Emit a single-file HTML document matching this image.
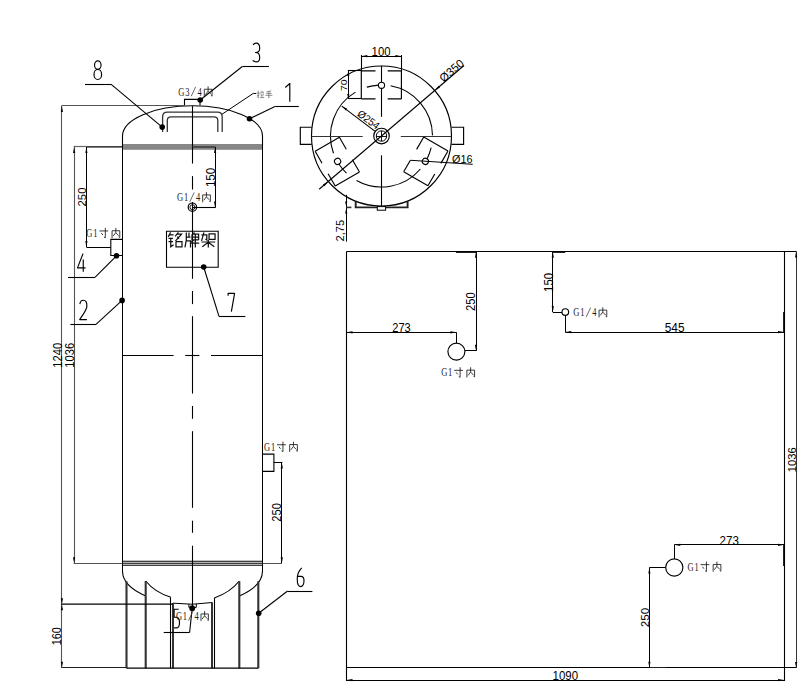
<!DOCTYPE html>
<html><head><meta charset="utf-8"><style>
html,body{margin:0;padding:0;background:#fff;}
body{width:812px;height:696px;overflow:hidden;font-family:"Liberation Sans",sans-serif;}
svg{display:block;}
</style></head><body>
<svg width="812" height="696" viewBox="0 0 812 696">
<rect width="812" height="696" fill="#fff"/>
<path d="M122.5,146 V136 A70,30.2 0 0 1 262.5,136 V146" stroke="#000" stroke-width="1.1" fill="none" />
<rect x="122.5" y="144" width="140" height="5.8" fill="#878787"/>
<rect x="122.5" y="560.2" width="140" height="5.6" fill="#b4b4b4"/>
<line x1="122.5" y1="561.5" x2="262.5" y2="561.5" stroke="#404040" stroke-width="1.0"/>
<line x1="122.5" y1="563.5" x2="262.5" y2="563.5" stroke="#404040" stroke-width="1.0"/>
<line x1="122.5" y1="565.5" x2="262.5" y2="565.5" stroke="#404040" stroke-width="1.0"/>
<line x1="122.5" y1="144" x2="122.5" y2="572" stroke="#000" stroke-width="1.0"/>
<line x1="262.5" y1="144" x2="262.5" y2="572" stroke="#000" stroke-width="1.0"/>
<path d="M122.5,571 A70.0,33.5 0 0 0 145.7,595.91" stroke="#000" stroke-width="1.1" fill="none" />
<path d="M262.5,571 A70.0,33.5 0 0 1 239.3,595.91" stroke="#000" stroke-width="1.1" fill="none" />
<path d="M145.7,581 Q155,592.5 170.9,597.3" stroke="#000" stroke-width="1.1" fill="none" />
<path d="M214.3,598 Q230,592.5 239.3,581" stroke="#000" stroke-width="1.1" fill="none" />
<path d="M173,603.2 Q192.5,605.6 212.4,602.5" stroke="#000" stroke-width="1.0" fill="none" />
<path d="M184.5,105.6 V99.4 H200 V105.4" stroke="#000" stroke-width="1.1" fill="none" />
<path d="M162.6,132 V117 Q162.6,112.2 167.4,112.2 H217.4 Q222.2,112.2 222.2,117 V132" stroke="#333" stroke-width="1.3" fill="none" />
<path d="M167.3,132 V120.5 Q167.3,116.8 171,116.8 H214 Q217.8,116.8 217.8,120.5 V132" stroke="#333" stroke-width="1.3" fill="none" />
<line x1="192.5" y1="105.9" x2="192.5" y2="163.6" stroke="#000" stroke-width="1.1"/>
<line x1="192.5" y1="176.1" x2="192.5" y2="189.5" stroke="#000" stroke-width="1.1"/>
<line x1="192.5" y1="202" x2="192.5" y2="278.8" stroke="#000" stroke-width="1.1"/>
<line x1="192.5" y1="291" x2="192.5" y2="304.1" stroke="#000" stroke-width="1.1"/>
<line x1="192.5" y1="316.2" x2="192.5" y2="393.6" stroke="#000" stroke-width="1.1"/>
<line x1="192.5" y1="406" x2="192.5" y2="418.8" stroke="#000" stroke-width="1.1"/>
<line x1="192.5" y1="431.2" x2="192.5" y2="507.8" stroke="#000" stroke-width="1.1"/>
<line x1="192.5" y1="520.7" x2="192.5" y2="532.8" stroke="#000" stroke-width="1.1"/>
<line x1="192.5" y1="545.7" x2="192.5" y2="607" stroke="#000" stroke-width="1.1"/>
<line x1="122.5" y1="355.5" x2="173.6" y2="355.5" stroke="#000" stroke-width="1.1"/>
<line x1="185.2" y1="355.5" x2="199.4" y2="355.5" stroke="#000" stroke-width="1.1"/>
<line x1="211" y1="355.5" x2="262.5" y2="355.5" stroke="#000" stroke-width="1.1"/>
<line x1="126.5" y1="581.3" x2="126.5" y2="668.3" stroke="#333" stroke-width="2.1"/>
<line x1="145.7" y1="581" x2="145.7" y2="668.3" stroke="#333" stroke-width="2.1"/>
<line x1="170.5" y1="597.3" x2="170.5" y2="668.3" stroke="#000" stroke-width="1.1"/>
<line x1="173" y1="603" x2="173" y2="668.3" stroke="#333" stroke-width="2.0"/>
<line x1="212" y1="602.6" x2="212" y2="668.3" stroke="#333" stroke-width="2.0"/>
<line x1="214.5" y1="598" x2="214.5" y2="668.3" stroke="#000" stroke-width="1.1"/>
<line x1="239.3" y1="581.2" x2="239.3" y2="668.3" stroke="#333" stroke-width="2.1"/>
<line x1="258.3" y1="581.2" x2="258.3" y2="668.3" stroke="#333" stroke-width="2.1"/>
<line x1="126.5" y1="668.2" x2="258.3" y2="668.2" stroke="#000" stroke-width="1.3"/>
<path d="M188.9,604 V607.4 H196.3 V603.8" stroke="#000" stroke-width="1.0" fill="none" />
<circle cx="192.2" cy="608.2" r="2.9" fill="#000"/>
<line x1="61.5" y1="106" x2="61.5" y2="667.8" stroke="#555" stroke-width="1.1"/>
<path d="M61.9,106 L63,112 L60.8,112 Z" fill="#000"/>
<path d="M61.9,667.8 L60.8,661.8 L63,661.8 Z" fill="#000"/>
<line x1="61.4" y1="105.5" x2="184.5" y2="105.5" stroke="#555" stroke-width="1.2"/>
<line x1="61.4" y1="667.5" x2="126.5" y2="667.5" stroke="#222" stroke-width="1.0"/>
<line x1="61.4" y1="604.2" x2="173" y2="604.2" stroke="#000" stroke-width="1.3"/>
<path d="M61.9,604.2 L63,610.2 L60.8,610.2 Z" fill="#000"/>
<path d="M61.9,604.2 L60.8,598.2 L63,598.2 Z" fill="#000"/>
<text id="t160" x="61.2" y="636.35" font-family="Liberation Sans" font-size="11.94" text-anchor="middle" fill="#000" transform="rotate(-90 61.2 636.35)" textLength="17.92" lengthAdjust="spacingAndGlyphs">160</text>
<line x1="74.5" y1="147" x2="74.5" y2="563.2" stroke="#555" stroke-width="1.1"/>
<path d="M74.1,147 L75.2,153 L73,153 Z" fill="#000"/>
<path d="M74.1,563.2 L73,557.2 L75.2,557.2 Z" fill="#000"/>
<line x1="73.6" y1="146.5" x2="86.4" y2="146.5" stroke="#666" stroke-width="1.2"/>
<line x1="86.4" y1="146.9" x2="122.5" y2="146.9" stroke="#000" stroke-width="1.4"/>
<line x1="73.6" y1="563.5" x2="122.5" y2="563.5" stroke="#555" stroke-width="1.0"/>
<line x1="262.5" y1="563.5" x2="281.9" y2="563.5" stroke="#555" stroke-width="1.0"/>
<text id="t1240" x="62.3" y="355.25" font-family="Liberation Sans" font-size="12.67" text-anchor="middle" fill="#000" transform="rotate(-90 62.3 355.25)" textLength="24.85" lengthAdjust="spacingAndGlyphs">1240</text>
<text id="t1036L" x="73.7" y="355.25" font-family="Liberation Sans" font-size="12.67" text-anchor="middle" fill="#000" transform="rotate(-90 73.7 355.25)" textLength="24.85" lengthAdjust="spacingAndGlyphs">1036</text>
<line x1="86.5" y1="147" x2="86.5" y2="247" stroke="#000" stroke-width="1.0"/>
<path d="M86.4,147 L87.5,153 L85.3,153 Z" fill="#000"/>
<path d="M86.4,247 L85.3,241 L87.5,241 Z" fill="#000"/>
<line x1="86.4" y1="247.5" x2="111" y2="247.5" stroke="#000" stroke-width="1.0"/>
<text id="t250L" x="86" y="197" font-family="Liberation Sans" font-size="10.83" text-anchor="middle" fill="#000" transform="rotate(-90 86 197)" textLength="18.96" lengthAdjust="spacingAndGlyphs">250</text>
<path d="M122.5,239.4 H110.8 V255.5 H122.5" stroke="#000" stroke-width="1.1" fill="none" />
<text transform="translate(89.4 237) scale(0.72 1)" font-family="Liberation Serif" font-size="11.8" text-anchor="middle" fill="#1a1a1a">G</text>
<text transform="translate(95.4 237) scale(0.72 1)" font-family="Liberation Serif" font-size="11.8" text-anchor="middle" fill="#1a1a1a">1</text>
<path d="M0.3,3H9.7 M6.6,0V9.8L5.2,9 M2.4,5L4,7" transform="translate(99.12 227.88) scale(0.94 1.02)" stroke="#1a1a1a" stroke-width="0.87" fill="none" vector-effect="none"/>
<path d="M1,2.8V10 M1,2.8H9.2V9.4L8,8.8 M5,0V4.6 M5,4.6L2.2,8 M5.1,4.8L8,7.6" transform="translate(111.12 227.88) scale(0.94 1.02)" stroke="#1a1a1a" stroke-width="0.87" fill="none" vector-effect="none"/>
<path d="M262.5,454.1 H273.9 V471.4 H262.5" stroke="#000" stroke-width="1.1" fill="none" />
<text transform="translate(267 450.8) scale(0.72 1)" font-family="Liberation Serif" font-size="11.8" text-anchor="middle" fill="#1a1a1a">G</text>
<text transform="translate(273 450.8) scale(0.72 1)" font-family="Liberation Serif" font-size="11.8" text-anchor="middle" fill="#1a1a1a">1</text>
<path d="M0.3,3H9.7 M6.6,0V9.8L5.2,9 M2.4,5L4,7" transform="translate(276.72 441.68) scale(0.94 1.02)" stroke="#1a1a1a" stroke-width="0.87" fill="none" vector-effect="none"/>
<path d="M1,2.8V10 M1,2.8H9.2V9.4L8,8.8 M5,0V4.6 M5,4.6L2.2,8 M5.1,4.8L8,7.6" transform="translate(288.72 441.68) scale(0.94 1.02)" stroke="#1a1a1a" stroke-width="0.87" fill="none" vector-effect="none"/>
<line x1="273.9" y1="462.5" x2="282.4" y2="462.5" stroke="#000" stroke-width="1.0"/>
<line x1="281.5" y1="462.5" x2="281.5" y2="563.2" stroke="#000" stroke-width="1.0"/>
<path d="M281.8,462.5 L282.9,468.5 L280.7,468.5 Z" fill="#000"/>
<path d="M281.8,563.2 L280.7,557.2 L282.9,557.2 Z" fill="#000"/>
<text id="t250R" x="281.2" y="512.45" font-family="Liberation Sans" font-size="11.94" text-anchor="middle" fill="#000" transform="rotate(-90 281.2 512.45)" textLength="18.56" lengthAdjust="spacingAndGlyphs">250</text>
<circle cx="192.4" cy="207.2" r="4.2" stroke="#000" stroke-width="1.2" fill="none"/>
<circle cx="192.4" cy="207.2" r="2.5" stroke="#000" stroke-width="0.9" fill="none"/>
<line x1="192.4" y1="147" x2="215.3" y2="147" stroke="#333" stroke-width="1.4"/>
<line x1="215.5" y1="147" x2="215.5" y2="207.4" stroke="#000" stroke-width="1.0"/>
<line x1="192.4" y1="207.5" x2="215.6" y2="207.5" stroke="#000" stroke-width="1.1"/>
<path d="M215.1,147 L216.2,153 L214,153 Z" fill="#000"/>
<path d="M215.1,207.4 L214,201.4 L216.2,201.4 Z" fill="#000"/>
<text id="t150T" x="214.7" y="177.45" font-family="Liberation Sans" font-size="12.67" text-anchor="middle" fill="#000" transform="rotate(-90 214.7 177.45)" textLength="19.24" lengthAdjust="spacingAndGlyphs">150</text>
<text transform="translate(180 201.2) scale(0.72 1)" font-family="Liberation Serif" font-size="11.8" text-anchor="middle" fill="#1a1a1a">G</text>
<text transform="translate(186 201.2) scale(0.72 1)" font-family="Liberation Serif" font-size="11.8" text-anchor="middle" fill="#1a1a1a">1</text>
<line x1="189.8" y1="201.8" x2="194.2" y2="192.4" stroke="#444" stroke-width="0.8"/>
<text transform="translate(198 201.2) scale(0.72 1)" font-family="Liberation Serif" font-size="11.8" text-anchor="middle" fill="#1a1a1a">4</text>
<path d="M1,2.8V10 M1,2.8H9.2V9.4L8,8.8 M5,0V4.6 M5,4.6L2.2,8 M5.1,4.8L8,7.6" transform="translate(201.72 192.08) scale(0.94 1.02)" stroke="#1a1a1a" stroke-width="0.87" fill="none" vector-effect="none"/>
<text transform="translate(181.25 95.6) scale(0.72 1)" font-family="Liberation Serif" font-size="11.8" text-anchor="middle" fill="#1a1a1a">G</text>
<text transform="translate(187.35 95.6) scale(0.72 1)" font-family="Liberation Serif" font-size="11.8" text-anchor="middle" fill="#1a1a1a">3</text>
<line x1="191.25" y1="96.2" x2="195.65" y2="86.8" stroke="#444" stroke-width="0.8"/>
<text transform="translate(199.55 95.6) scale(0.72 1)" font-family="Liberation Serif" font-size="11.8" text-anchor="middle" fill="#1a1a1a">4</text>
<path d="M1,2.8V10 M1,2.8H9.2V9.4L8,8.8 M5,0V4.6 M5,4.6L2.2,8 M5.1,4.8L8,7.6" transform="translate(203.33 86.33) scale(0.95 1.04)" stroke="#1a1a1a" stroke-width="0.85" fill="none" vector-effect="none"/>
<path d="M166.5,231.2 H218.2 V267.3 H166.5 Z" stroke="#000" stroke-width="1.1" fill="none" />
<path d="M2,0L0.4,3 M1.4,1.6H4 M0.6,4H3.6 M0.6,6.2H3.6 M2.1,4V9.6L4,8.2 M7.2,0L5,2.6 M6.3,1.1H9.3L5.2,5.8 M6.4,2.9L7.6,4.2 M5.6,6.2V10 M5.6,6.2H9.6V10 M5.6,9.6H9.6" transform="translate(167.6 232.4) scale(1.5 1.5)" stroke="#111" stroke-width="0.83" fill="none" vector-effect="none"/>
<path d="M1.4,0V5.2L0.5,10 M1.4,3.2H4.2 M1.4,5.6H4.2V10 M3.2,0V3.2 M6.8,0L6.2,1 M5.2,1.2H9.6V5 M5.2,1.2V5H9.6 M5.2,3.1H9.6 M7.4,1.2V10 M4.6,7.2H10 M6.2,5.2L4.8,6.4" transform="translate(184.2 232.4) scale(1.5 1.5)" stroke="#111" stroke-width="0.83" fill="none" vector-effect="none"/>
<path d="M0.4,1.6H4V5L3.1,4.5 M2.1,0L0.5,5.6 M5.5,1H9.5V4.6H5.5Z M0.4,6.4H9.6 M5,5V10 M5,6.6L1,9.6 M5,6.6L9,9.6" transform="translate(200.8 232.4) scale(1.5 1.5)" stroke="#111" stroke-width="0.83" fill="none" vector-effect="none"/>
<ellipse cx="97.8" cy="65.1" rx="3.27" ry="4.3" stroke="#000" stroke-width="1.15" fill="none"/>
<ellipse cx="97.8" cy="74.45" rx="3.8" ry="5.05" stroke="#000" stroke-width="1.15" fill="none"/>
<line x1="85" y1="84.5" x2="110.9" y2="84.5" stroke="#000" stroke-width="1.1"/>
<line x1="110.9" y1="84.2" x2="162.2" y2="127.1" stroke="#000" stroke-width="1.1"/>
<circle cx="162.2" cy="127.1" r="2.8" fill="#000"/>
<path d="M253.05,44.98 C254.1,43.29 255.15,43.1 256.2,43.1 C258.65,43.1 259.7,45.36 259.7,48.18 C259.7,51 258.3,52.5 255.5,52.5 C258.65,52.5 259.7,54.76 259.7,57.39 C259.7,60.58 258.3,61.9 256.2,61.9 C254.8,61.9 253.75,61.34 252.7,60.58 " stroke="#000" stroke-width="1.15" fill="none" stroke-linejoin="round"/>
<line x1="242.3" y1="66.5" x2="268.9" y2="66.5" stroke="#000" stroke-width="1.1"/>
<line x1="242.3" y1="66.5" x2="200.2" y2="100" stroke="#000" stroke-width="1.1"/>
<circle cx="200.2" cy="100" r="2.8" fill="#000"/>
<path d="M285.3,87.53 L289.8,83.5 V101.8 " stroke="#000" stroke-width="1.15" fill="none" stroke-linejoin="round"/>
<line x1="275.5" y1="106.5" x2="298.8" y2="106.5" stroke="#000" stroke-width="1.1"/>
<line x1="275.5" y1="106.3" x2="249.5" y2="118.7" stroke="#000" stroke-width="1.1"/>
<circle cx="249.5" cy="118.7" r="2.8" fill="#000"/>
<line x1="221.9" y1="114.3" x2="253.6" y2="93.2" stroke="#000" stroke-width="1.0"/>
<line x1="253.6" y1="93.5" x2="256.3" y2="93.5" stroke="#000" stroke-width="1.0"/>
<path d="M0,3.2H3.6 M2,0V9.6L1,8.8 M0,7.2L3.6,5.6 M6.8,0L7.3,1.4 M4.6,2.2H9.7 M5.6,3.6L6.4,7.8 M8.8,3.6L7.9,7.8 M4.2,9.2H10" transform="translate(256.8 90.6) scale(0.74 0.76)" stroke="#666" stroke-width="1" fill="none" vector-effect="none"/>
<path d="M8.2,0.4L1.8,1.6 M1.4,3.6H8.6 M0.3,6.2H9.7 M5,1.2V9.6L3.9,8.8" transform="translate(265.2 90.6) scale(0.74 0.76)" stroke="#666" stroke-width="1" fill="none" vector-effect="none"/>
<path d="M83.01,253.6 L77.5,267.9 H85.6 M83.25,259.39 V271.7 " stroke="#000" stroke-width="1.15" fill="none" stroke-linejoin="round"/>
<line x1="68" y1="277.5" x2="95.2" y2="277.5" stroke="#000" stroke-width="1.1"/>
<line x1="95.2" y1="277.1" x2="116.5" y2="255.8" stroke="#000" stroke-width="1.1"/>
<circle cx="116.5" cy="255.8" r="2.8" fill="#000"/>
<path d="M79.84,304.08 C80.28,301.36 81.86,300.2 83.3,300.2 C85.6,300.2 86.9,302.53 86.9,306.02 C86.9,310.29 82.94,314.17 79.7,319.6 H86.9 " stroke="#000" stroke-width="1.15" fill="none" stroke-linejoin="round"/>
<line x1="70.3" y1="324.5" x2="96" y2="324.5" stroke="#000" stroke-width="1.1"/>
<line x1="96" y1="324.3" x2="122.1" y2="300.4" stroke="#000" stroke-width="1.1"/>
<circle cx="122.1" cy="300.4" r="2.8" fill="#000"/>
<path d="M228.1,295.68 V293.3 H234.6 L231.35,311.6 " stroke="#000" stroke-width="1.15" fill="none" stroke-linejoin="round"/>
<line x1="219" y1="316.5" x2="245.4" y2="316.5" stroke="#000" stroke-width="1.1"/>
<line x1="219" y1="316.4" x2="203.7" y2="267" stroke="#000" stroke-width="1.1"/>
<circle cx="203.7" cy="267" r="2.8" fill="#000"/>
<path d="M301.79,567.9 C299.17,570.33 297.24,574.07 297.24,579.12 C297.24,584.36 298.48,586.6 300.55,586.6 C302.76,586.6 304,584.36 304,580.62 C304,577.62 302.97,576.32 300.9,576.32 H297.24 " stroke="#000" stroke-width="1.15" fill="none" stroke-linejoin="round"/>
<line x1="287.6" y1="591.5" x2="312.4" y2="591.5" stroke="#000" stroke-width="1.1"/>
<line x1="287.6" y1="591" x2="258.7" y2="613.2" stroke="#000" stroke-width="1.1"/>
<circle cx="258.7" cy="613.2" r="2.8" fill="#000"/>
<path d="M178.69,609.2 H174.1 V617.24 H176.26 C178.42,617.24 179.5,619.49 179.5,622.66 C179.5,626.03 178.15,627.9 176.26,627.9 H174.1 " stroke="#000" stroke-width="1.15" fill="none" stroke-linejoin="round"/>
<line x1="163.7" y1="632.5" x2="189.6" y2="632.5" stroke="#000" stroke-width="1.1"/>
<line x1="189.6" y1="632.5" x2="192.2" y2="608.2" stroke="#000" stroke-width="1.1"/>
<text transform="translate(179.1 620) scale(0.72 1)" font-family="Liberation Serif" font-size="11.8" text-anchor="middle" fill="#1a1a1a">G</text>
<text transform="translate(184.9 620) scale(0.72 1)" font-family="Liberation Serif" font-size="11.8" text-anchor="middle" fill="#1a1a1a">1</text>
<line x1="188.5" y1="620.6" x2="192.9" y2="611.2" stroke="#444" stroke-width="0.8"/>
<text transform="translate(196.5 620) scale(0.72 1)" font-family="Liberation Serif" font-size="11.8" text-anchor="middle" fill="#1a1a1a">4</text>
<path d="M1,2.8V10 M1,2.8H9.2V9.4L8,8.8 M5,0V4.6 M5,4.6L2.2,8 M5.1,4.8L8,7.6" transform="translate(200.1 611.18) scale(0.9 0.99)" stroke="#1a1a1a" stroke-width="0.9" fill="none" vector-effect="none"/>
<circle cx="381.5" cy="136" r="70" stroke="#000" stroke-width="1.15" fill="none"/>
<path d="M390.62,85.82 A51,51 0 0 1 432.5,135.38" stroke="#000" stroke-width="1.1" fill="none" />
<path d="M431.13,147.73 A51,51 0 0 1 427.02,158.99" stroke="#000" stroke-width="1.1" fill="none" />
<path d="M420.4,168.99 A51,51 0 0 1 356.54,180.48" stroke="#000" stroke-width="1.1" fill="none" />
<path d="M346.52,173.12 A51,51 0 0 1 338.83,163.93" stroke="#000" stroke-width="1.1" fill="none" />
<path d="M333.49,153.19 A51,51 0 0 1 355.46,92.15" stroke="#000" stroke-width="1.1" fill="none" />
<path d="M366.84,87.15 A51,51 0 0 1 378.65,85.08" stroke="#000" stroke-width="1.1" fill="none" />
<circle cx="381.5" cy="136" r="7.8" stroke="#000" stroke-width="1.15" fill="none"/>
<circle cx="381.5" cy="136" r="5.2" stroke="#000" stroke-width="1.0" fill="none"/>
<line x1="376.3" y1="136.5" x2="386.7" y2="136.5" stroke="#000" stroke-width="0.9"/>
<line x1="381.5" y1="130.8" x2="381.5" y2="141.2" stroke="#000" stroke-width="0.9"/>
<path d="M311.7,127.2 H300.3 V144.4 H311.7" stroke="#000" stroke-width="1.15" fill="none" />
<path d="M451.5,127.2 H463.6 V144.4 H451.5" stroke="#000" stroke-width="1.15" fill="none" />
<line x1="311.7" y1="136.5" x2="362.7" y2="136.5" stroke="#333" stroke-width="1.1"/>
<line x1="400.8" y1="136.5" x2="451.5" y2="136.5" stroke="#333" stroke-width="1.1"/>
<line x1="381.5" y1="65.9" x2="381.5" y2="116.9" stroke="#000" stroke-width="1.1"/>
<line x1="381.5" y1="155.3" x2="381.5" y2="206.5" stroke="#000" stroke-width="1.1"/>
<g transform="rotate(0 381.5 136.0)"><path d="M361.3,70.9 V98.9 M401.4,70.9 V98.9 M361.3,70.9 H375.5 M387.7,70.9 H401.4 M361.3,98.9 H375.5 M387.7,98.9 H401.4" stroke="#000" stroke-width="1.15" fill="none"/><circle cx="381.5" cy="85.3" r="3.1" stroke="#000" stroke-width="1.1" fill="#fff"/></g>
<g transform="rotate(120 381.5 136.0)"><path d="M361.3,70.9 V98.9 M401.4,70.9 V98.9 M361.3,70.9 H375.5 M387.7,70.9 H401.4 M361.3,98.9 H375.5 M387.7,98.9 H401.4" stroke="#000" stroke-width="1.15" fill="none"/><circle cx="381.5" cy="85.3" r="3.1" stroke="#000" stroke-width="1.1" fill="#fff"/></g>
<g transform="rotate(240 381.5 136.0)"><path d="M361.3,70.9 V98.9 M401.4,70.9 V98.9 M361.3,70.9 H375.5 M387.7,70.9 H401.4 M361.3,98.9 H375.5 M387.7,98.9 H401.4" stroke="#000" stroke-width="1.15" fill="none"/><circle cx="381.5" cy="85.3" r="3.1" stroke="#000" stroke-width="1.1" fill="#fff"/></g>
<line x1="361.5" y1="55" x2="361.5" y2="71" stroke="#000" stroke-width="1.1"/>
<line x1="401.5" y1="55" x2="401.5" y2="71" stroke="#000" stroke-width="1.1"/>
<line x1="361.3" y1="56.5" x2="401.4" y2="56.5" stroke="#000" stroke-width="1.0"/>
<path d="M361.3,56.2 L367.3,55.1 L367.3,57.3 Z" fill="#000"/>
<path d="M401.4,56.2 L395.4,57.3 L395.4,55.1 Z" fill="#000"/>
<text id="t100" x="381.05" y="56" font-family="Liberation Sans" font-size="11.89" text-anchor="middle" fill="#000" textLength="18.91" lengthAdjust="spacingAndGlyphs">100</text>
<line x1="347.8" y1="70.5" x2="361.3" y2="70.5" stroke="#000" stroke-width="1.1"/>
<line x1="347.8" y1="98.5" x2="361.3" y2="98.5" stroke="#000" stroke-width="1.1"/>
<line x1="348.5" y1="70.9" x2="348.5" y2="98.9" stroke="#000" stroke-width="1.0"/>
<path d="M348.3,70.9 L349.4,75.9 L347.2,75.9 Z" fill="#000"/>
<path d="M348.3,98.9 L347.2,93.9 L349.4,93.9 Z" fill="#000"/>
<text id="t70" x="347.5" y="85.15" font-family="Liberation Sans" font-size="9.59" text-anchor="middle" fill="#000" transform="rotate(-90 347.5 85.15)" textLength="11.72" lengthAdjust="spacingAndGlyphs">70</text>
<line x1="319.15" y1="189.25" x2="464" y2="65.53" stroke="#000" stroke-width="1.1"/>
<path d="M434.73,90.54 L438.58,85.81 L440.01,87.48 Z" fill="#000"/>
<path d="M328.27,181.46 L324.42,186.19 L322.99,184.52 Z" fill="#000"/>
<text x="454.12" y="73.68" font-family="Liberation Sans" font-size="11.5" text-anchor="middle" fill="#000" transform="rotate(-40.5 454.12 73.68)">Ø350</text>
<line x1="341.7" y1="106.1" x2="375.5" y2="131.6" stroke="#000" stroke-width="1.1"/>
<path d="M341.7,106.1 L347.17,108.79 L345.86,110.56 Z" fill="#000"/>
<text x="366.4" y="122.6" font-family="Liberation Sans" font-size="10.6" text-anchor="middle" fill="#000" transform="rotate(36.6 366.4 122.6)" textLength="24.5" lengthAdjust="spacingAndGlyphs">Ø254</text>
<line x1="410.9" y1="160.3" x2="472.7" y2="164.3" stroke="#000" stroke-width="1.0"/>
<text id="tO16" x="462.25" y="163.3" font-family="Liberation Sans" font-size="11.24" text-anchor="middle" fill="#000" textLength="20.43" lengthAdjust="spacingAndGlyphs">Ø16</text>
<path d="M355.7,201.6 V207.4 H407.6 V201.6" stroke="#222" stroke-width="1.9" fill="none" />
<rect x="377.3" y="206.6" width="8.3" height="3.6" stroke="#000" stroke-width="1" fill="#fff"/>
<line x1="346.5" y1="194.8" x2="346.5" y2="241.6" stroke="#000" stroke-width="1.0"/>
<line x1="346.2" y1="207.4" x2="351.4" y2="207.4" stroke="#333" stroke-width="1.6"/>
<path d="M346.2,206.6 L345.1,201.6 L347.3,201.6 Z" fill="#000"/>
<path d="M346.2,208.4 L347.3,213.4 L345.1,213.4 Z" fill="#000"/>
<text id="t275" x="343.7" y="230.7" font-family="Liberation Sans" font-size="10.43" text-anchor="middle" fill="#000" transform="rotate(-90 343.7 230.7)" textLength="21.64" lengthAdjust="spacingAndGlyphs">2,75</text>
<line x1="346.5" y1="251.5" x2="796.6" y2="251.5" stroke="#000" stroke-width="1.1"/>
<line x1="346.5" y1="667.5" x2="796.6" y2="667.5" stroke="#000" stroke-width="1.1"/>
<line x1="346.5" y1="251.6" x2="346.5" y2="681" stroke="#000" stroke-width="1.1"/>
<line x1="784.5" y1="251.6" x2="784.5" y2="681" stroke="#000" stroke-width="1.1"/>
<line x1="455.9" y1="252.5" x2="476.6" y2="252.5" stroke="#222" stroke-width="1.0"/>
<line x1="552.7" y1="252.5" x2="565.2" y2="252.5" stroke="#222" stroke-width="1.0"/>
<line x1="783.5" y1="312" x2="783.5" y2="332" stroke="#222" stroke-width="1.0"/>
<line x1="783.5" y1="544.8" x2="783.5" y2="566" stroke="#222" stroke-width="1.0"/>
<line x1="649.4" y1="667.5" x2="666" y2="667.5" stroke="#222" stroke-width="1.0"/>
<line x1="796.5" y1="251.6" x2="796.5" y2="667.9" stroke="#333" stroke-width="1.0"/>
<path d="M796.1,251.6 L797.2,257.6 L795,257.6 Z" fill="#000"/>
<path d="M796.1,667.9 L795,661.9 L797.2,661.9 Z" fill="#000"/>
<text id="t1036R" x="796.3" y="459.75" font-family="Liberation Sans" font-size="11.24" text-anchor="middle" fill="#000" transform="rotate(-90 796.3 459.75)" textLength="25.05" lengthAdjust="spacingAndGlyphs">1036</text>
<line x1="346.5" y1="680.5" x2="784" y2="680.5" stroke="#000" stroke-width="1.0"/>
<path d="M346.5,680.1 L352.5,679 L352.5,681.2 Z" fill="#000"/>
<path d="M784,680.1 L778,681.2 L778,679 Z" fill="#000"/>
<text id="t1090" x="565.3" y="680" font-family="Liberation Sans" font-size="11.89" text-anchor="middle" fill="#000" textLength="25.49" lengthAdjust="spacingAndGlyphs">1090</text>
<circle cx="456.4" cy="351.6" r="8.5" stroke="#000" stroke-width="1.15" fill="none"/>
<line x1="346.5" y1="332.5" x2="456.4" y2="332.5" stroke="#000" stroke-width="1.0"/>
<path d="M346.5,332.3 L352.5,331.2 L352.5,333.4 Z" fill="#000"/>
<path d="M456.4,332.3 L450.4,333.4 L450.4,331.2 Z" fill="#000"/>
<line x1="456.5" y1="332.3" x2="456.5" y2="343.1" stroke="#000" stroke-width="1.0"/>
<text id="t273a" x="401.45" y="332.4" font-family="Liberation Sans" font-size="11.94" text-anchor="middle" fill="#000" textLength="18.36" lengthAdjust="spacingAndGlyphs">273</text>
<line x1="476.5" y1="251.8" x2="476.5" y2="350.8" stroke="#000" stroke-width="1.0"/>
<line x1="464.9" y1="350.5" x2="476.4" y2="350.5" stroke="#000" stroke-width="1.0"/>
<path d="M476,251.8 L477.1,257.8 L474.9,257.8 Z" fill="#000"/>
<path d="M476,350.8 L474.9,344.8 L477.1,344.8 Z" fill="#000"/>
<text id="t250a" x="475.2" y="301.65" font-family="Liberation Sans" font-size="11.94" text-anchor="middle" fill="#000" transform="rotate(-90 475.2 301.65)" textLength="18.69" lengthAdjust="spacingAndGlyphs">250</text>
<text transform="translate(444.2 376.4) scale(0.72 1)" font-family="Liberation Serif" font-size="11.8" text-anchor="middle" fill="#1a1a1a">G</text>
<text transform="translate(450.2 376.4) scale(0.72 1)" font-family="Liberation Serif" font-size="11.8" text-anchor="middle" fill="#1a1a1a">1</text>
<path d="M0.3,3H9.7 M6.6,0V9.8L5.2,9 M2.4,5L4,7" transform="translate(453.92 367.28) scale(0.94 1.02)" stroke="#1a1a1a" stroke-width="0.87" fill="none" vector-effect="none"/>
<path d="M1,2.8V10 M1,2.8H9.2V9.4L8,8.8 M5,0V4.6 M5,4.6L2.2,8 M5.1,4.8L8,7.6" transform="translate(465.92 367.28) scale(0.94 1.02)" stroke="#1a1a1a" stroke-width="0.87" fill="none" vector-effect="none"/>
<circle cx="565.3" cy="312" r="3.3" stroke="#000" stroke-width="1.15" fill="none"/>
<line x1="552.5" y1="251.8" x2="552.5" y2="312" stroke="#000" stroke-width="1.0"/>
<line x1="552.8" y1="312.5" x2="562" y2="312.5" stroke="#000" stroke-width="1.0"/>
<path d="M552.8,251.8 L553.9,257.8 L551.7,257.8 Z" fill="#000"/>
<path d="M552.8,312 L551.7,306 L553.9,306 Z" fill="#000"/>
<text id="t150a" x="552.6" y="282.45" font-family="Liberation Sans" font-size="11.95" text-anchor="middle" fill="#000" transform="rotate(-90 552.6 282.45)" textLength="19.01" lengthAdjust="spacingAndGlyphs">150</text>
<text transform="translate(576.4 316.4) scale(0.72 1)" font-family="Liberation Serif" font-size="11.8" text-anchor="middle" fill="#1a1a1a">G</text>
<text transform="translate(582.4 316.4) scale(0.72 1)" font-family="Liberation Serif" font-size="11.8" text-anchor="middle" fill="#1a1a1a">1</text>
<line x1="586.2" y1="317" x2="590.6" y2="307.6" stroke="#444" stroke-width="0.8"/>
<text transform="translate(594.4 316.4) scale(0.72 1)" font-family="Liberation Serif" font-size="11.8" text-anchor="middle" fill="#1a1a1a">4</text>
<path d="M1,2.8V10 M1,2.8H9.2V9.4L8,8.8 M5,0V4.6 M5,4.6L2.2,8 M5.1,4.8L8,7.6" transform="translate(598.12 307.28) scale(0.94 1.02)" stroke="#1a1a1a" stroke-width="0.87" fill="none" vector-effect="none"/>
<line x1="565.5" y1="315.3" x2="565.5" y2="332.1" stroke="#000" stroke-width="1.0"/>
<line x1="565.3" y1="332.5" x2="784" y2="332.5" stroke="#000" stroke-width="1.0"/>
<path d="M565.3,332.1 L571.3,331 L571.3,333.2 Z" fill="#000"/>
<path d="M784,332.1 L778,333.2 L778,331 Z" fill="#000"/>
<text id="t545" x="674.6" y="331.7" font-family="Liberation Sans" font-size="11.94" text-anchor="middle" fill="#000" textLength="19.79" lengthAdjust="spacingAndGlyphs">545</text>
<circle cx="674.3" cy="567.5" r="8.6" stroke="#000" stroke-width="1.15" fill="none"/>
<line x1="674.3" y1="544.5" x2="784" y2="544.5" stroke="#000" stroke-width="1.0"/>
<path d="M674.3,544.8 L680.3,543.7 L680.3,545.9 Z" fill="#000"/>
<path d="M784,544.8 L778,545.9 L778,543.7 Z" fill="#000"/>
<line x1="674.5" y1="544.8" x2="674.5" y2="558.9" stroke="#000" stroke-width="1.0"/>
<text id="t273b" x="729.25" y="544.6" font-family="Liberation Sans" font-size="11.89" text-anchor="middle" fill="#000" textLength="19.37" lengthAdjust="spacingAndGlyphs">273</text>
<line x1="649.4" y1="567.5" x2="665.7" y2="567.5" stroke="#000" stroke-width="1.0"/>
<line x1="649.5" y1="567.5" x2="649.5" y2="667.8" stroke="#000" stroke-width="1.0"/>
<path d="M649.4,567.5 L650.5,573.5 L648.3,573.5 Z" fill="#000"/>
<path d="M649.4,667.8 L648.3,661.8 L650.5,661.8 Z" fill="#000"/>
<text id="t250b" x="649.1" y="617.55" font-family="Liberation Sans" font-size="11.17" text-anchor="middle" fill="#000" transform="rotate(-90 649.1 617.55)" textLength="19.32" lengthAdjust="spacingAndGlyphs">250</text>
<text transform="translate(690.5 570.7) scale(0.72 1)" font-family="Liberation Serif" font-size="11.8" text-anchor="middle" fill="#1a1a1a">G</text>
<text transform="translate(696.5 570.7) scale(0.72 1)" font-family="Liberation Serif" font-size="11.8" text-anchor="middle" fill="#1a1a1a">1</text>
<path d="M0.3,3H9.7 M6.6,0V9.8L5.2,9 M2.4,5L4,7" transform="translate(700.22 561.58) scale(0.94 1.02)" stroke="#1a1a1a" stroke-width="0.87" fill="none" vector-effect="none"/>
<path d="M1,2.8V10 M1,2.8H9.2V9.4L8,8.8 M5,0V4.6 M5,4.6L2.2,8 M5.1,4.8L8,7.6" transform="translate(712.22 561.58) scale(0.94 1.02)" stroke="#1a1a1a" stroke-width="0.87" fill="none" vector-effect="none"/>
</svg>
</body></html>
